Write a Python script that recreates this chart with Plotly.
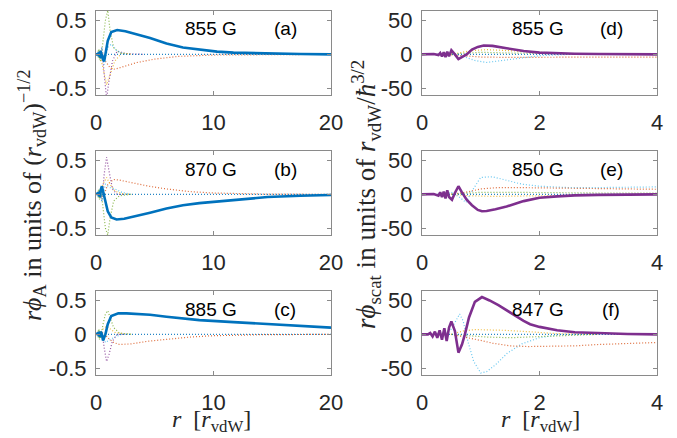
import plotly.graph_objects as go

W, H = 677, 438

# ---------------- colours (MATLAB default palette) ----------------
C_BLUE = "#0072BD"; C_ORANGE = "#D95319"; C_YELLOW = "#EDB120"
C_PURPLE = "#7E2F8E"; C_GREEN = "#77AC30"; C_LBLUE = "#4DBEEE"

# ---------------- panel labels ----------------
field_labels = ["855 G", "870 G", "885 G", "855 G", "850 G", "847 G"]
panel_tags = ["(a)", "(b)", "(c)", "(d)", "(e)", "(f)"]
left_xticks = [0, 10, 20]
right_xticks = [0, 2, 4]
left_yticks = [-0.5, 0, 0.5]
left_yticklabels = ["-0.5", "0", "0.5"]
right_yticks = [-50, 0, 50]
right_yticklabels = ["-50", "0", "50"]

# ---------------- panel (a): rphi_A, 855 G ----------------
a_main_r = [0, 0.1, 0.2, 0.25, 0.3, 0.35, 0.4, 0.45, 0.5, 0.6, 0.7, 0.8, 1.0, 1.3, 1.8, 2.5, 3.2, 4.0, 4.6, 5.3, 6.0, 7.4, 8.8, 10.3, 11.7, 14.6, 17.4, 20]
a_main_y = [0, 0, 0.02, -0.03, 0.04, -0.05, 0.05, -0.06, 0.0, -0.08, -0.1, 0.0, 0.2, 0.33, 0.36, 0.34, 0.31, 0.27, 0.24, 0.2, 0.16, 0.1, 0.07, 0.04, 0.025, 0.01, 0.005, 0.0]
a_dot_blue_r = [0, 5, 10, 15, 20]
a_dot_blue_y = [0, 0, 0, 0, 0]
a_dot_orange_r = [0.3, 0.5, 0.8, 1.2, 1.6, 2.5, 3.5, 5, 7, 10, 20]
a_dot_orange_y = [0, 0.05, -0.1, -0.2, -0.22, -0.17, -0.12, -0.07, -0.03, -0.01, 0]
a_dot_purple_r = [0.3, 0.5, 0.7, 0.9, 1.1, 1.4, 1.8, 2.5, 4]
a_dot_purple_y = [0, 0.1, -0.3, -0.65, -0.4, -0.1, 0.05, 0.01, 0]
a_dot_green_r = [0.2, 0.4, 0.6, 0.8, 1.0, 1.2, 1.5, 2, 3]
a_dot_green_y = [0, -0.1, 0.2, 0.5, 0.65, 0.35, 0.1, 0.02, 0]
a_dot_yellow_r = [0.3, 0.6, 0.9, 1.2, 1.6, 2.2, 3]
a_dot_yellow_y = [0, -0.2, -0.45, -0.3, -0.1, 0.02, 0]
a_dot_lblue_r = [0.3, 0.5, 0.7, 1.0, 1.3, 1.8, 2.5]
a_dot_lblue_y = [0, 0.1, -0.15, 0.1, 0.15, 0.05, 0]
a_dot_osc_r = [0.1, 0.15, 0.2, 0.25, 0.3, 0.35, 0.4, 0.45, 0.5]
a_dot_osc_y = [0, 0.05, -0.06, 0.08, -0.08, 0.06, -0.05, 0.04, 0]

# ---------------- panel (b): rphi_A, 870 G ----------------
b_main_r = [0, 0.2, 0.25, 0.3, 0.35, 0.4, 0.5, 0.6, 0.8, 1.0, 1.3, 1.75, 2.4, 3.2, 4.6, 6.0, 7.4, 8.8, 11.7, 14.6, 17.4, 20]
b_main_y = [0, 0.02, -0.03, 0.04, -0.04, 0.06, 0.12, 0.05, -0.12, -0.25, -0.34, -0.37, -0.36, -0.33, -0.27, -0.21, -0.16, -0.13, -0.08, -0.04, -0.02, -0.01]
b_dot_blue_r = [0, 5, 10, 15, 20]
b_dot_blue_y = [0, 0, 0, 0, 0]
b_dot_orange_r = [0.3, 0.6, 1.0, 1.5, 2.0, 3, 4.5, 6, 8, 10, 14, 20]
b_dot_orange_y = [0, -0.05, 0.15, 0.22, 0.21, 0.17, 0.12, 0.08, 0.04, 0.02, 0.005, 0]
b_dot_purple_r = [0.3, 0.5, 0.7, 0.9, 1.1, 1.4, 1.8, 2.5]
b_dot_purple_y = [0, -0.1, 0.3, 0.55, 0.35, 0.08, 0, 0]
b_dot_green_r = [0.2, 0.4, 0.6, 0.8, 1.0, 1.2, 1.5, 2, 3]
b_dot_green_y = [0, 0.1, -0.2, -0.5, -0.6, -0.35, -0.1, -0.02, 0]
b_dot_yellow_r = [0.3, 0.6, 0.9, 1.2, 1.6, 2.2, 3]
b_dot_yellow_y = [0, 0.15, 0.25, 0.15, 0.05, 0.01, 0]
b_dot_lblue_r = [0.3, 0.5, 0.8, 1.2, 1.6, 2.2, 3]
b_dot_lblue_y = [0, -0.1, 0.15, 0.1, 0.08, 0.03, 0]
b_dot_osc_r = [0.1, 0.15, 0.2, 0.25, 0.3, 0.35, 0.4, 0.45, 0.5]
b_dot_osc_y = [0, 0.05, -0.06, 0.08, -0.08, 0.06, -0.05, 0.04, 0]

# ---------------- panel (c): rphi_A, 885 G ----------------
c_main_r = [0, 0.2, 0.25, 0.3, 0.35, 0.4, 0.5, 0.6, 0.8, 1.0, 1.3, 1.9, 2.6, 3.5, 4.6, 6.0, 7.4, 8.8, 11.7, 14.6, 17.4, 20]
c_main_y = [0, 0.02, -0.03, 0.03, -0.04, 0.04, 0.0, -0.09, 0.0, 0.15, 0.27, 0.31, 0.31, 0.3, 0.29, 0.26, 0.235, 0.21, 0.18, 0.15, 0.12, 0.1]
c_dot_blue_r = [0, 5, 10, 15, 20]
c_dot_blue_y = [0, 0, 0, 0, 0]
c_dot_orange_r = [0.3, 0.6, 1.0, 1.5, 2, 3, 4.5, 6, 8, 10, 14, 20]
c_dot_orange_y = [0, 0.03, -0.05, -0.12, -0.15, -0.14, -0.1, -0.07, -0.04, -0.02, -0.005, 0]
c_dot_purple_r = [0.3, 0.5, 0.7, 0.9, 1.1, 1.4, 1.8, 2.5]
c_dot_purple_y = [0, 0.05, -0.2, -0.4, -0.3, -0.1, 0, 0]
c_dot_green_r = [0.2, 0.4, 0.6, 0.8, 1.0, 1.2, 1.5, 2, 3]
c_dot_green_y = [0, -0.05, 0.15, 0.3, 0.35, 0.25, 0.1, 0.02, 0]
c_dot_yellow_r = [0.3, 0.6, 0.9, 1.2, 1.6, 2.2, 3]
c_dot_yellow_y = [0, 0.08, 0.12, 0.08, 0.03, 0.01, 0]
c_dot_lblue_r = [0.3, 0.5, 0.8, 1.2, 1.6, 2.2, 3]
c_dot_lblue_y = [0, 0.05, -0.12, -0.08, -0.04, 0, 0]
c_dot_osc_r = [0.1, 0.15, 0.2, 0.25, 0.3, 0.35, 0.4, 0.45, 0.5]
c_dot_osc_y = [0, 0.05, -0.06, 0.08, -0.08, 0.06, -0.05, 0.04, 0]

# ---------------- panel (d): rphi_scat, 855 G ----------------
d_main_r = [0, 0.1, 0.2, 0.28, 0.31, 0.34, 0.37, 0.40, 0.43, 0.46, 0.5, 0.56, 0.62, 0.7, 0.76, 0.85, 0.95, 1.05, 1.2, 1.44, 1.73, 2.0, 2.3, 2.6, 3.0, 3.5, 4.0]
d_main_y = [0, 0, 0.5, -1, 2, -3, 3, -4, 4, -3, 6, 0, -7, -3, 0, 7, 11, 13, 12.5, 9, 5, 2.5, 1.5, 1, 0.5, 0.2, 0]
d_dot_blue_r = [0, 1, 2, 3, 4]
d_dot_blue_y = [0, 0, 0, 0, 0]
d_dot_lblue_r = [0.3, 0.5, 0.7, 0.9, 1.1, 1.3, 1.6, 2, 2.5, 3]
d_dot_lblue_y = [0, 2, -3, -9, -12, -10, -6, -2, 0, 0]
d_dot_orange_r = [0.4, 0.7, 1.0, 1.5, 2, 3, 4]
d_dot_orange_y = [0, -2, -4, -4.5, -4, -4, -4]
d_dot_yellow_r = [0.5, 0.8, 1.1, 1.5, 2, 2.5, 3]
d_dot_yellow_y = [0, 5, 7, 5, 3, 1, 0]
d_dot_green_r = [0.4, 0.7, 1.0, 1.5, 2, 3]
d_dot_green_y = [0, 2, 3, 2, 1, 0]

# ---------------- panel (e): rphi_scat, 850 G ----------------
e_main_r = [0, 0.1, 0.2, 0.28, 0.31, 0.34, 0.37, 0.40, 0.43, 0.46, 0.51, 0.56, 0.62, 0.68, 0.76, 0.85, 0.95, 1.02, 1.1, 1.25, 1.44, 1.73, 2.0, 2.3, 2.6, 3.0, 3.5, 4.0]
e_main_y = [0, 0, 0.5, -2, 3, -4, 4, -6, 6, -4, -8, 2, 12, 3, -8, -16, -23, -25, -24.5, -22, -18, -10, -5, -3, -1.5, -0.7, -0.2, 0]
e_dot_blue_r = [0, 1, 2, 3, 4]
e_dot_blue_y = [0, 0, 0, 0, 0]
e_dot_lblue_r = [0.3, 0.5, 0.65, 0.75, 0.85, 1.0, 1.2, 1.4, 1.7, 2.0, 2.5, 3, 3.5, 4]
e_dot_lblue_y = [0, 3, -5, -12, 5, 25, 26, 22, 15, 12, 10, 10, 10, 11]
e_dot_orange_r = [0.5, 0.8, 1.0, 1.3, 1.6, 2, 2.5, 3, 3.5, 4]
e_dot_orange_y = [0, 4, 8, 10, 10, 9.5, 9, 8.5, 8, 7.5]
e_dot_green_r = [0.4, 0.7, 1.0, 1.5, 2, 3, 4]
e_dot_green_y = [0, 2, 3, 3, 2.5, 2, 2]
e_dot_yellow_r = [0.5, 0.8, 1.2, 2, 3, 4]
e_dot_yellow_y = [0, -2, -3, -2, -1, 0]

# ---------------- panel (f): rphi_scat, 847 G ----------------
f_main_r = [0, 0.1, 0.14, 0.18, 0.22, 0.26, 0.3, 0.34, 0.38, 0.42, 0.46, 0.5, 0.56, 0.62, 0.68, 0.73, 0.8, 0.9, 1.02, 1.15, 1.3, 1.44, 1.6, 1.73, 1.84, 2.0, 2.3, 2.6, 3.15, 3.5, 4.0]
f_main_y = [0, 0, 2, -3, 4, -5, 6, -8, 9, -10, 10, 19, 5, -27, -15, 0, 25, 48, 55, 50, 43, 36, 27, 20, 15, 11, 6, 3, 1, 0.5, 0]
f_dot_blue_r = [0, 1, 2, 3, 4]
f_dot_blue_y = [0, 0, 0, 0, 0]
f_dot_lblue_r = [0.3, 0.4, 0.5, 0.58, 0.64, 0.7, 0.78, 0.88, 1.0, 1.1, 1.25, 1.45, 1.7, 2.0, 2.3, 2.8, 3.5, 4]
f_dot_lblue_y = [0, 3, 8, 20, 30, 20, -10, -40, -57, -55, -45, -28, -14, -5, -1, 0, 0, 0]
f_dot_orange_r = [0.5, 0.8, 1.0, 1.2, 1.5, 1.8, 2.2, 2.6, 3.0, 3.5, 4]
f_dot_orange_y = [0, -5, -9, -13, -17, -18, -18, -17, -15, -13, -12]
f_dot_yellow_r = [0.5, 0.7, 0.9, 1.1, 1.4, 1.8, 2.3, 3]
f_dot_yellow_y = [0, 5, 7, 7, 6, 4, 1, 0]
f_dot_green_r = [0.5, 0.8, 1.1, 1.5, 2, 2.5, 3]
f_dot_green_y = [0, -2, -4, -5, -3, -1, 0]

panels = [
    dict(main=(a_main_r, a_main_y), color=C_BLUE, dots=[
        (a_dot_osc_r, a_dot_osc_y, C_GREEN), (a_dot_orange_r, a_dot_orange_y, C_ORANGE),
        (a_dot_purple_r, a_dot_purple_y, C_PURPLE), (a_dot_green_r, a_dot_green_y, C_GREEN),
        (a_dot_yellow_r, a_dot_yellow_y, C_YELLOW), (a_dot_lblue_r, a_dot_lblue_y, C_LBLUE),
        (a_dot_blue_r, a_dot_blue_y, C_BLUE)]),
    dict(main=(b_main_r, b_main_y), color=C_BLUE, dots=[
        (b_dot_osc_r, b_dot_osc_y, C_GREEN), (b_dot_orange_r, b_dot_orange_y, C_ORANGE),
        (b_dot_purple_r, b_dot_purple_y, C_PURPLE), (b_dot_green_r, b_dot_green_y, C_GREEN),
        (b_dot_yellow_r, b_dot_yellow_y, C_YELLOW), (b_dot_lblue_r, b_dot_lblue_y, C_LBLUE),
        (b_dot_blue_r, b_dot_blue_y, C_BLUE)]),
    dict(main=(c_main_r, c_main_y), color=C_BLUE, dots=[
        (c_dot_osc_r, c_dot_osc_y, C_GREEN), (c_dot_orange_r, c_dot_orange_y, C_ORANGE),
        (c_dot_purple_r, c_dot_purple_y, C_PURPLE), (c_dot_green_r, c_dot_green_y, C_GREEN),
        (c_dot_yellow_r, c_dot_yellow_y, C_YELLOW), (c_dot_lblue_r, c_dot_lblue_y, C_LBLUE),
        (c_dot_blue_r, c_dot_blue_y, C_BLUE)]),
    dict(main=(d_main_r, d_main_y), color=C_PURPLE, dots=[
        (d_dot_lblue_r, d_dot_lblue_y, C_LBLUE), (d_dot_orange_r, d_dot_orange_y, C_ORANGE),
        (d_dot_yellow_r, d_dot_yellow_y, C_YELLOW), (d_dot_green_r, d_dot_green_y, C_GREEN),
        (d_dot_blue_r, d_dot_blue_y, C_BLUE)]),
    dict(main=(e_main_r, e_main_y), color=C_PURPLE, dots=[
        (e_dot_lblue_r, e_dot_lblue_y, C_LBLUE), (e_dot_orange_r, e_dot_orange_y, C_ORANGE),
        (e_dot_green_r, e_dot_green_y, C_GREEN), (e_dot_yellow_r, e_dot_yellow_y, C_YELLOW),
        (e_dot_blue_r, e_dot_blue_y, C_BLUE)]),
    dict(main=(f_main_r, f_main_y), color=C_PURPLE, dots=[
        (f_dot_lblue_r, f_dot_lblue_y, C_LBLUE), (f_dot_orange_r, f_dot_orange_y, C_ORANGE),
        (f_dot_yellow_r, f_dot_yellow_y, C_YELLOW), (f_dot_green_r, f_dot_green_y, C_GREEN),
        (f_dot_blue_r, f_dot_blue_y, C_BLUE)]),
]

# ---------------- layout geometry (pixels) ----------------
col_px = [(96, 331), (422, 657)]
row_px = [(11, 95), (151, 235), (291, 375)]

def px_x(p):
    return p / W

def px_y(p):
    return 1 - p / H

fig = go.Figure()
layout = dict(
    template="none",
    width=W, height=H, margin=dict(l=0, r=0, t=0, b=0, pad=0, autoexpand=False),
    paper_bgcolor="white", plot_bgcolor="white", showlegend=False,
    font=dict(family="Liberation Sans, Arial, sans-serif", color="#262626"),
)

annotations = []
for i, p in enumerate(panels):
    col = i // 3
    row = i % 3
    n = i + 1
    xa = "x" if n == 1 else f"x{n}"
    ya = "y" if n == 1 else f"y{n}"
    for (r, y, c) in p["dots"]:
        fig.add_trace(go.Scatter(x=r, y=y, mode="lines", xaxis=xa, yaxis=ya,
                                 line=dict(color=c, width=1.2, dash="1px,2px"), opacity=0.85))
    fig.add_trace(go.Scatter(x=p["main"][0], y=p["main"][1], mode="lines", xaxis=xa, yaxis=ya,
                             line=dict(color=p["color"], width=2.6)))
    x0, x1 = col_px[col]
    y0, y1 = row_px[row]
    if col == 0:
        xr = [0, 20]; xt = left_xticks; yr = [-0.6, 0.64]; yt = left_yticks; ytl = left_yticklabels
    else:
        xr = [0, 4]; xt = right_xticks; yr = [-60, 64]; yt = right_yticks; ytl = right_yticklabels
    axis_common = dict(showline=True, linecolor="#8a8a8a", linewidth=1, mirror="ticks",
                       ticks="inside", ticklen=4, tickcolor="#8a8a8a", showgrid=False,
                       zeroline=False, automargin=False,
                       tickfont=dict(size=22, color="#262626",
                                     family="Liberation Sans, Arial, sans-serif"))
    key_x = "xaxis" if n == 1 else f"xaxis{n}"
    key_y = "yaxis" if n == 1 else f"yaxis{n}"
    layout[key_x] = dict(domain=[px_x(x0), px_x(x1)], range=xr, tickvals=xt,
                         ticktext=[str(t) for t in xt], anchor=ya, ticklabelstandoff=8, **axis_common)
    layout[key_y] = dict(domain=[px_y(y1), px_y(y0)], range=yr, tickvals=yt, ticktext=ytl,
                         anchor=xa, ticklabelstandoff=4, **axis_common)
    # text labels in panel
    lx = 211 if col == 0 else 538
    tx = 285 if col == 0 else 611
    ty = y0 + 18
    annotations.append(dict(x=px_x(lx), y=px_y(ty), xref="paper", yref="paper",
                            text=field_labels[i], showarrow=False, xanchor="center", yanchor="middle",
                            font=dict(size=19, color="black")))
    annotations.append(dict(x=px_x(tx), y=px_y(ty), xref="paper", yref="paper",
                            text=panel_tags[i], showarrow=False, xanchor="center", yanchor="middle",
                            font=dict(size=19, color="black")))

serif = "Liberation Serif, DejaVu Serif, serif"
annotations.append(dict(x=px_x(32), y=px_y(195), xref="paper", yref="paper", textangle=-90,
                        text="<i>r</i><i>ϕ</i><sub>A</sub> in units of (<i>r</i><sub>vdW</sub>)<sup>−1/2</sup>",
                        showarrow=False, xanchor="center", yanchor="middle",
                        font=dict(size=26, family=serif, color="#262626")))
annotations.append(dict(x=px_x(366), y=px_y(194), xref="paper", yref="paper", textangle=-90,
                        text="<i>r</i><i>ϕ</i><sub>scat</sub> in units of <i>r</i><sub>vdW</sub>/<i>ħ</i><sup>3/2</sup>",
                        showarrow=False, xanchor="center", yanchor="middle",
                        font=dict(size=27, family=serif, color="#262626")))
for cx in [212, 540]:
    annotations.append(dict(x=px_x(cx), y=px_y(421), xref="paper", yref="paper",
                            text="<i>r</i>  [<i>r</i><sub>vdW</sub>]", showarrow=False,
                            xanchor="center", yanchor="middle",
                            font=dict(size=24, family=serif, color="#262626")))

layout["annotations"] = annotations
fig.update_layout(**layout)
fig.write_html("out.html", config={"displayModeBar": False},
               post_script="document.body.style.margin='0px';")
